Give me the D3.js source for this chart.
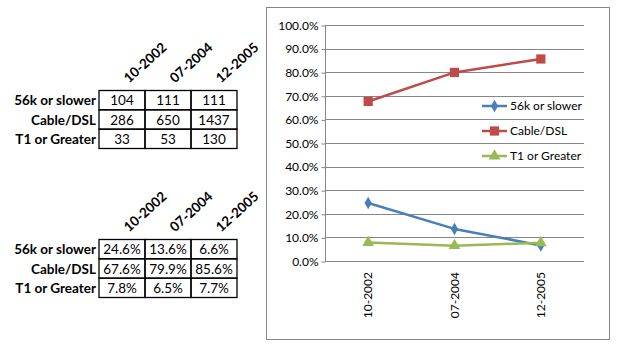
<!DOCTYPE html>
<html><head><meta charset="utf-8">
<script src="https://cdn.jsdelivr.net/npm/d3@7"></script>
<style>body{margin:0;background:#fff;}svg{display:block;font-family:Lato,"Open Sans",sans-serif;}</style>
</head><body>
<svg id="c" width="640" height="358"></svg>
<script>
const periods = ["10-2002", "07-2004", "12-2005"];
const seriesNames = ["56k or slower", "Cable/DSL", "T1 or Greater"];
const countsSlow = [104, 111, 111];
const countsCable = [286, 650, 1437];
const countsT1 = [33, 53, 130];
const shareSlow = [24.6, 13.6, 6.6];
const shareCable = [67.6, 79.9, 85.6];
const shareT1 = [7.8, 6.5, 7.7];
const yTicks = [0, 10, 20, 30, 40, 50, 60, 70, 80, 90, 100];
const colors = ["#4A7EBB", "#BE4B48", "#98B954"];

const svg = d3.select("#c");

// ---------- Tables ----------
function drawTable(top, rows, fmt) {
  const colX = d3.scaleBand().domain(periods).range([99, 237]);
  const rowY = d3.scaleBand().domain(seriesNames).range([top, top + 58]);
  const g = svg.append("g");
  periods.forEach(p => {
    g.append("text")
      .attr("transform", `translate(${colX(p) + colX.bandwidth()/2 + 7},${top - 7}) rotate(-42)`)
      .attr("font-weight", "bold").attr("font-size", 13.5).attr("fill", "#000")
      .text(p);
  });
  seriesNames.forEach((s, i) => {
    g.append("text").attr("x", 96).attr("y", rowY(s) + rowY.bandwidth()/2 + 5)
      .attr("text-anchor", "end").attr("font-weight", "bold").attr("font-size", 13.5)
      .text(s);
    periods.forEach((p, j) => {
      g.append("rect").attr("x", colX(p)).attr("y", rowY(s))
        .attr("width", colX.bandwidth()).attr("height", rowY.bandwidth())
        .attr("fill", "none").attr("stroke", "#000").attr("stroke-width", 1.3);
      g.append("text").attr("x", colX(p) + colX.bandwidth()/2)
        .attr("y", rowY(s) + rowY.bandwidth()/2 + 5)
        .attr("text-anchor", "middle").attr("font-size", 13.5)
        .text(fmt(rows[i][j]));
    });
  });
}
drawTable(90.5, [countsSlow, countsCable, countsT1], d => d);
drawTable(239.5, [shareSlow, shareCable, shareT1], d => d.toFixed(1) + "%");

// ---------- Chart ----------
svg.append("rect").attr("x", 266.5).attr("y", 7.5).attr("width", 343).attr("height", 332)
  .attr("fill", "#fff").attr("stroke", "#868686").attr("stroke-width", 1);

const x = d3.scaleBand().domain(periods).range([325, 584]);
const y = d3.scaleLinear().domain([0, 100]).range([261, 25]);

const grid = svg.append("g");
yTicks.forEach(t => {
  grid.append("line").attr("x1", 325).attr("x2", 584)
    .attr("y1", Math.round(y(t)) + 0.5).attr("y2", Math.round(y(t)) + 0.5)
    .attr("stroke", "#868686").attr("stroke-width", 1);
});

const yAxis = d3.axisLeft(y).tickValues(yTicks).tickSize(4).tickFormat(d => d.toFixed(1) + "%");
const ya = svg.append("g").attr("transform", "translate(325.5,0.5)").call(yAxis);
ya.select(".domain").attr("stroke", "#868686").attr("d", `M0,${y(100)}V${y(0)}`);
ya.selectAll(".tick line").attr("stroke", "#868686");
ya.selectAll(".tick text").attr("font-size", 12).attr("fill", "#000").attr("font-family", "Lato,sans-serif").attr("x", -7);

const xAxis = d3.axisBottom(x).tickSize(0);
const xa = svg.append("g").attr("transform", "translate(0,261)").call(xAxis);
xa.select(".domain").remove();
xa.selectAll(".tick text").attr("font-size", 12).attr("fill", "#000")
  .attr("font-family", "Lato,sans-serif")
  .attr("transform", "rotate(-90)").attr("text-anchor", "end")
  .attr("x", -11).attr("y", 0).attr("dy", "0.35em");

const allShares = [shareSlow, shareCable, shareT1];
const symbols = [d3.symbolDiamond, d3.symbolSquare, d3.symbolTriangle];
const symSizes = [45, 85, 60];
const line = d3.line().x((d, i) => x(periods[i]) + x.bandwidth()/2).y(d => y(d));

allShares.forEach((vals, si) => {
  svg.append("path").attr("d", line(vals)).attr("fill", "none")
    .attr("stroke", colors[si]).attr("stroke-width", 2.5).attr("stroke-linejoin", "round");
});
allShares.forEach((vals, si) => {
  vals.forEach((v, i) => {
    svg.append("path").attr("d", d3.symbol(symbols[si], symSizes[si])())
      .attr("transform", `translate(${x(periods[i]) + x.bandwidth()/2},${y(v)})`)
      .attr("fill", colors[si]);
  });
});

// legend
const legY = [106, 131, 156];
seriesNames.forEach((s, si) => {
  const g = svg.append("g").attr("transform", `translate(482,${legY[si]})`);
  g.append("line").attr("x1", 0).attr("x2", 25).attr("stroke", colors[si]).attr("stroke-width", 2.5);
  g.append("path").attr("d", d3.symbol(symbols[si], symSizes[si])()).attr("transform", "translate(12.5,0)").attr("fill", colors[si]);
  g.append("text").attr("x", 28).attr("y", 4).attr("font-size", 12).text(s);
});
</script>
</body></html>
